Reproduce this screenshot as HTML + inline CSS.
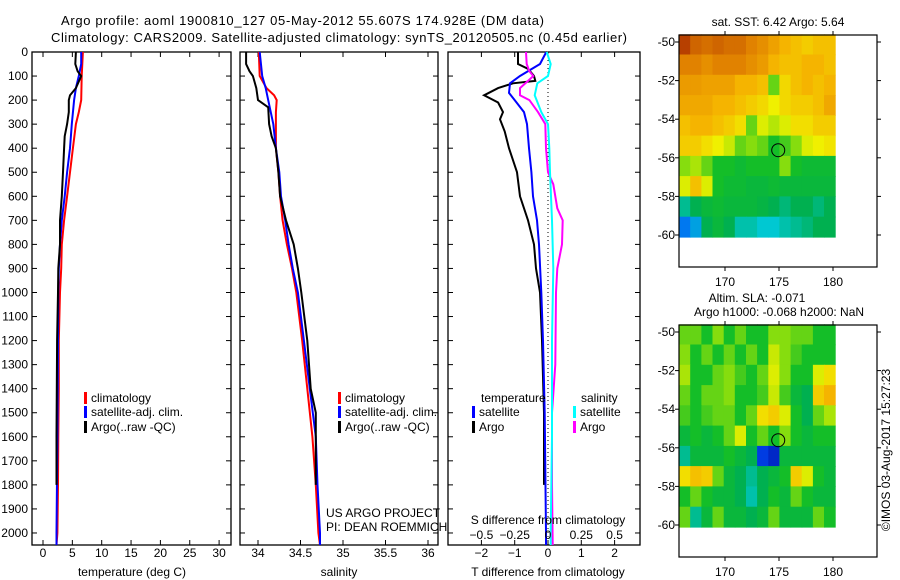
<!DOCTYPE html>
<html><head><meta charset="utf-8">
<style>
body{margin:0;background:#fff;}
svg{display:block;font-family:"Liberation Sans",sans-serif;font-size:12px;}
</style></head>
<body>
<svg id="c" width="900" height="580" viewBox="0 0 900 580" xmlns="http://www.w3.org/2000/svg">
<rect width="900" height="580" fill="#fff"/>
<text x="61" y="25" font-size="13" textLength="483">Argo profile: aoml 1900810_127 05-May-2012 55.607S 174.928E (DM data)</text>
<text x="51" y="42" font-size="13" textLength="576">Climatology: CARS2009. Satellite-adjusted climatology: synTS_20120505.nc (0.45d earlier)</text>
<g id="g"></g>
</svg>
<script>
// ---- profile data ----
const tClimDepth=[0,100,200,250,300,400,500,600,700,800,900,1000,1200,1400,1600,1800,2000,2050];
const tClimVal=[6.8,6.6,6.5,6.1,5.6,5.1,4.6,4.1,3.6,3.2,3.1,2.9,2.7,2.7,2.6,2.55,2.45,2.3];
const tSatDepth=[0,50,100,150,200,300,400,500,600,700,800,900,1000,1200,1600,2000,2050];
const tSatVal=[6.5,6.5,6.1,5.6,5.3,4.9,4.6,4.1,3.7,3.2,2.9,2.7,2.6,2.55,2.45,2.3,2.3];
const tArgoDepth=[0,50,80,100,150,180,200,250,300,350,400,500,600,700,800,900,1000,1200,1400,1600,1800];
const tArgoVal=[5.6,5.5,5.9,6.5,5.6,4.6,4.4,4.4,4.1,3.7,3.6,3.4,3.2,2.9,2.9,2.6,2.55,2.4,2.35,2.3,2.3];

const sClimDepth=[0,100,150,180,200,250,300,400,500,600,700,800,900,1000,1200,1400,1600,1800,2000,2050];
const sClimVal=[34.01,34.02,34.1,34.19,34.22,34.21,34.21,34.21,34.24,34.26,34.29,34.34,34.4,34.45,34.52,34.58,34.64,34.68,34.71,34.73];
const sSatDepth=[0,100,150,200,300,400,500,600,700,800,900,1000,1200,1400,1600,1800,2000,2050];
const sSatVal=[34.02,34.05,34.09,34.12,34.18,34.21,34.25,34.27,34.32,34.36,34.41,34.47,34.54,34.61,34.68,34.7,34.73,34.73];
const sArgoDepth=[0,50,80,100,150,200,230,300,350,400,500,600,700,800,900,1000,1200,1400,1500,1800];
const sArgoVal=[33.86,33.86,33.9,33.94,33.98,34.0,34.12,34.13,34.16,34.21,34.24,34.26,34.33,34.42,34.47,34.51,34.58,34.62,34.68,34.68];

const dTSatDepth=[0,50,100,130,170,200,250,300,400,500,600,700,800,1000,1200,1500,2000,2050];
const dTSatVal=[-0.05,-0.24,-0.84,-1.14,-1.17,-1.0,-0.72,-0.63,-0.57,-0.5,-0.45,-0.33,-0.27,-0.2,-0.15,-0.1,-0.06,-0.06];
const dTArgoDepth=[0,50,70,100,120,130,150,180,210,250,280,330,400,500,600,700,800,900,1000,1200,1500,1800];
const dTArgoVal=[-0.9,-0.9,-0.6,-0.42,-0.38,-1.05,-1.5,-1.92,-1.5,-1.35,-1.44,-1.3,-1.17,-0.93,-0.84,-0.6,-0.42,-0.36,-0.24,-0.18,-0.12,-0.12];
const dSSatDepth=[0,50,100,130,180,250,300,400,500,700,900,1200,1600,2000,2050];
const dSSatVal=[-0.01,0.02,0.0,-0.08,-0.1,-0.05,0.0,0.01,0.015,0.03,0.04,0.03,0.03,0.02,0.02];
const dSArgoDepth=[0,50,80,100,120,150,180,200,250,300,400,500,550,650,700,800,900,1000,1300,1500,1800,2050];
const dSArgoVal=[-0.165,-0.16,-0.14,-0.11,-0.15,-0.21,-0.21,-0.14,-0.075,-0.02,-0.015,0.0,0.04,0.07,0.11,0.105,0.07,0.06,0.055,0.03,0.03,0.035];

// ---- axis ticks ----
const depthTicks=[0,100,200,300,400,500,600,700,800,900,1000,1100,1200,1300,1400,1500,1600,1700,1800,1900,2000];
const tempTicks=[0,5,10,15,20,25,30];
const salTicks=[34,34.5,35,35.5,36];
const salTickLabels=["34","34.5","35","35.5","36"];
const dTTicks=[-2,-1,0,1,2];
const dSTicks=[-0.5,-0.25,0,0.25,0.5];
const dSTickLabels=["\u22120.5","\u22120.25","0","0.25","0.5"];
const latTicks=[-50,-52,-54,-56,-58,-60];
const lonTicks=[170,175,180];

// ---- map data (colormap index 0..1), rows lat -50 -> -60, cols lon 166 -> 180 ----
const sstGrid=[
[0.97,0.93,0.92,0.93,0.92,0.92,0.9,0.88,0.85,0.82,0.8,0.78,0.8,0.8],
[0.9,0.9,0.88,0.9,0.9,0.9,0.88,0.86,0.82,0.8,0.8,0.82,0.82,0.8],
[0.86,0.86,0.85,0.85,0.85,0.82,0.82,0.8,0.6,0.76,0.8,0.82,0.8,0.82],
[0.84,0.84,0.84,0.82,0.82,0.8,0.78,0.76,0.72,0.76,0.78,0.78,0.8,0.84],
[0.8,0.82,0.82,0.8,0.78,0.75,0.6,0.7,0.66,0.7,0.75,0.75,0.78,0.78],
[0.78,0.78,0.75,0.72,0.68,0.6,0.62,0.6,0.55,0.58,0.62,0.7,0.72,0.74],
[0.62,0.65,0.6,0.55,0.55,0.52,0.55,0.55,0.55,0.62,0.55,0.52,0.52,0.52],
[0.7,0.8,0.7,0.55,0.52,0.52,0.5,0.5,0.52,0.5,0.5,0.5,0.5,0.5],
[0.4,0.45,0.5,0.52,0.5,0.5,0.5,0.48,0.45,0.42,0.45,0.45,0.42,0.45],
[0.25,0.3,0.45,0.5,0.45,0.38,0.38,0.35,0.35,0.38,0.4,0.42,0.45,0.45]];
const slaGrid=[
[0.6,0.6,0.55,0.62,0.55,0.6,0.55,0.55,0.62,0.62,0.6,0.6,0.55,0.55],
[0.62,0.55,0.6,0.55,0.6,0.55,0.6,0.55,0.68,0.62,0.58,0.55,0.55,0.55],
[0.65,0.55,0.55,0.6,0.62,0.58,0.55,0.6,0.7,0.62,0.55,0.55,0.7,0.75],
[0.6,0.55,0.6,0.6,0.62,0.55,0.55,0.58,0.68,0.58,0.5,0.45,0.78,0.82],
[0.58,0.55,0.58,0.6,0.6,0.55,0.6,0.75,0.78,0.7,0.55,0.45,0.6,0.65],
[0.5,0.55,0.5,0.55,0.6,0.7,0.55,0.6,0.55,0.62,0.55,0.5,0.55,0.55],
[0.4,0.5,0.5,0.5,0.55,0.5,0.45,0.15,0.1,0.5,0.5,0.5,0.5,0.5],
[0.75,0.8,0.78,0.6,0.5,0.45,0.4,0.45,0.5,0.55,0.78,0.7,0.55,0.5],
[0.55,0.6,0.55,0.5,0.5,0.45,0.38,0.45,0.55,0.5,0.6,0.55,0.5,0.5],
[0.6,0.4,0.5,0.6,0.5,0.5,0.45,0.5,0.6,0.5,0.5,0.5,0.6,0.55]];
const argoLon=174.928, argoLat=-55.607;

const NS="http://www.w3.org/2000/svg";
const G=document.getElementById('g');
function mk(tag,at,parent){const e=document.createElementNS(NS,tag);for(const k in at)e.setAttribute(k,at[k]);(parent||G).appendChild(e);return e;}
function txt(x,y,s,anchor,size){const e=mk('text',{x:x,y:y,'text-anchor':anchor||'start','font-size':size||12});e.textContent=s;return e;}

const TOP=52,BOT=545,DMAX=2050;
const yD=d=>TOP+d/DMAX*(BOT-TOP);

function panel(name,L,R,xs,ticksTop){
  const f=mk('rect',{x:L,y:TOP,width:R-L,height:BOT-TOP,fill:'none',stroke:'#000','stroke-width':1.3});
  
  
  depthTicks.forEach(d=>{const y=yD(d);
    mk('line',{x1:L,x2:L+5,y1:y,y2:y,stroke:'#000'});
    mk('line',{x1:R-5,x2:R,y1:y,y2:y,stroke:'#000'});});
  ticksTop.forEach(v=>{const x=xs(v);
    mk('line',{x1:x,x2:x,y1:TOP,y2:TOP+5,stroke:'#000'});
    mk('line',{x1:x,x2:x,y1:BOT-5,y2:BOT,stroke:'#000'});});
}
function line(name,depths,vals,xs,color,w){
  const p=depths.map((d,i)=>xs(vals[i]).toFixed(1)+','+yD(d).toFixed(1)).join(' ');
  const e=mk('polyline',{points:p,fill:'none',stroke:color,'stroke-width':w||2,'stroke-linejoin':'miter'});
  
  
}
function legendEntry(name,x,y,color,label){
  const g=mk('g',{});
  
  
  mk('rect',{x:x,y:y-10,width:3,height:12,fill:color},g);
  const t=mk('text',{x:x+7,y:y,'font-size':12},g);t.textContent=label;
}

// depth labels
depthTicks.forEach(d=>{const t=txt(28,yD(d)+4,String(d),'end');
  
  });

// Panel 1 temperature
const xT=v=>43+(v)*5.87;
panel('temperature-panel',32,231,xT,tempTicks);
line('temp-climatology',tClimDepth,tClimVal,xT,'#f00');
line('temp-satellite-adj',tSatDepth,tSatVal,xT,'#00f');
line('temp-argo',tArgoDepth,tArgoVal,xT,'#000');
tempTicks.forEach(v=>{const t=txt(xT(v),557,String(v),'middle');
  });
let tt=txt(132,576,'temperature (deg C)','middle');

legendEntry('legend-climatology',84,402,'#f00','climatology');
legendEntry('legend-satellite-adj',84,416,'#00f','satellite-adj. clim.');
legendEntry('legend-argo',84,431,'#000','Argo(..raw -QC)');

// Panel 2 salinity
const xS=v=>258+(v-34)*85;
panel('salinity-panel',240,438,xS,salTicks);
line('sal-climatology',sClimDepth,sClimVal,xS,'#f00');
line('sal-satellite-adj',sSatDepth,sSatVal,xS,'#00f');
line('sal-argo',sArgoDepth,sArgoVal,xS,'#000');
salTicks.forEach((v,i)=>{const t=txt(xS(v),557,salTickLabels[i],'middle');
  });
tt=txt(339,576,'salinity','middle');

legendEntry('legend-sal-climatology',338,402,'#f00','climatology');
legendEntry('legend-sal-satellite-adj',338,416,'#00f','satellite-adj. clim.');
legendEntry('legend-sal-argo',338,431,'#000','Argo(..raw -QC)');
tt=txt(326,517,'US ARGO PROJECT');
tt=txt(326,531,'PI: DEAN ROEMMICH');

// Panel 3 differences
const xDT=v=>548+v*33.3;
const xDS=v=>548+v*133.2;
panel('difference-panel',448,640,xDT,dTTicks);
mk('line',{x1:xDT(0),x2:xDT(0),y1:TOP,y2:BOT,stroke:'#000','stroke-dasharray':'1,3'});
line('diff-T-argo',dTArgoDepth,dTArgoVal,xDT,'#000');
line('diff-T-satellite',dTSatDepth,dTSatVal,xDT,'#00f');
line('diff-S-argo',dSArgoDepth,dSArgoVal,xDS,'#f0f');
line('diff-S-satellite',dSSatDepth,dSSatVal,xDS,'#0ff');
tt=txt(481,402,'temperature');
tt=txt(581,402,'salinity');
legendEntry('legend-T-satellite',472,416,'#00f','satellite');
legendEntry('legend-T-argo',472,431,'#000','Argo');
legendEntry('legend-S-satellite',573,416,'#0ff','satellite');
legendEntry('legend-S-argo',573,431,'#f0f','Argo');
tt=txt(548,524,'S difference from climatology','middle');
dSTicks.forEach((v,i)=>{const t=txt(xDS(v),539,dSTickLabels[i],'middle');
  });
dTTicks.forEach(v=>{const t=txt(xDT(v),557,v<0?'\u2212'+(-v):String(v),'middle');
  });
tt=txt(548,576,'T difference from climatology','middle');

// Maps
const cmapStops=[[0,[0,0,140]],[0.2,[0,80,255]],[0.35,[0,200,210]],[0.45,[0,176,80]],[0.55,[20,190,40]],[0.63,[150,225,10]],[0.72,[240,240,0]],[0.82,[245,180,0]],[0.9,[225,130,0]],[1,[165,35,0]]];
function cmap(v){for(let i=1;i<cmapStops.length;i++){if(v<=cmapStops[i][0]){const a=cmapStops[i-1],b=cmapStops[i];const t=(v-a[0])/(b[0]-a[0]);
  return 'rgb('+a[1].map((c,k)=>Math.round(c+(b[1][k]-c)*t)).join(',')+')';}}return 'rgb(165,35,0)';}
function map(name,top,grid){
  const L=679,R=877,B=top+232;
  const xL=v=>779+(v-175)*10.8;
  const yL=v=>top+7+(-50-v)*19.3;
  const lon0=165.75,lon1=180.2,lat0=-49.6,lat1=-60.1;
  const nr=grid.length,nc=grid[0].length;
  grid.forEach((row,r)=>row.forEach((v,c)=>{
    const x0=xL(lon0+(lon1-lon0)*c/nc),x1=xL(lon0+(lon1-lon0)*(c+1)/nc);
    const y0=yL(lat0+(lat1-lat0)*r/nr),y1=yL(lat0+(lat1-lat0)*(r+1)/nr);
    const e=mk('rect',{x:x0.toFixed(1),y:y0.toFixed(1),width:(x1-x0+0.6).toFixed(1),height:(y1-y0+0.6).toFixed(1),fill:cmap(v)});
    
    
  }));
  const f=mk('rect',{x:L,y:top,width:R-L,height:B-top,fill:'none',stroke:'#000','stroke-width':1.2});
  
  latTicks.forEach(v=>{const y=yL(v);
    mk('line',{x1:L-4,x2:L,y1:y,y2:y,stroke:'#000'});mk('line',{x1:R,x2:R+4,y1:y,y2:y,stroke:'#000'});
    const t=txt(L-4,y+4,'-'+(-v),'end');});
  lonTicks.forEach(v=>{const x=xL(v);
    mk('line',{x1:x,x2:x,y1:top-4,y2:top,stroke:'#000'});mk('line',{x1:x,x2:x,y1:B,y2:B+4,stroke:'#000'});
    const t=txt(x,B+19,String(v),'middle');});
  const c=mk('circle',{cx:xL(argoLon),cy:yL(argoLat),r:6.5,fill:'none',stroke:'#000','stroke-width':1});
  
}
map('sst-map',35,sstGrid);
tt=txt(778,26,'sat. SST: 6.42 Argo: 5.64','middle');
map('sla-map',325,slaGrid);
tt=txt(757,302,'Altim. SLA: -0.071','middle');
tt=txt(779,316,'Argo h1000: -0.068 h2000: NaN','middle');
tt=txt(0,0,'\u00A9IMOS 03-Aug-2017 15:27:23','middle');
tt.setAttribute('transform','translate(890,450) rotate(-90)');

</script>
</body></html>
